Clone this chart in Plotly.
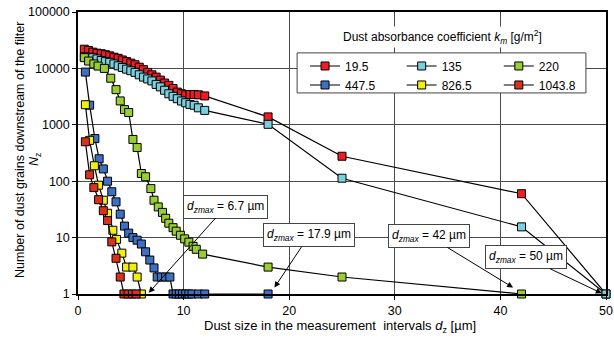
import math
import plotly.graph_objects as go

# ---- data ----
names = ["19.5", "135", "220", "447.5", "826.5", "1043.8"]
colors = ["#ee1c25", "#7ccfdc", "#9acd32", "#3f6fc2", "#f2ef12", "#d8321f"]

x_195 = [0.6, 1.0, 1.4, 1.8, 2.2, 2.6, 3.0, 3.4, 3.8, 4.2, 4.6, 5.0, 5.4, 5.8, 6.2, 6.6, 7.0, 7.4,
         7.8, 8.2, 8.6, 9.0, 9.4, 9.8, 10.2, 10.6, 11.0, 11.4, 12.0, 18, 25, 42, 50]
y_195 = [21900, 20800, 19400, 18600, 18200, 17500, 16700, 15800, 15100, 14100, 13200, 12400, 11600,
         10500, 9500, 8500, 7700, 7000, 6200, 5500, 5000, 4400, 3800, 3550, 3400, 3450, 3450, 3400,
         3250, 1380, 277, 60, 1]

x_135 = [0.6, 1.0, 1.4, 1.8, 2.2, 2.6, 3.0, 3.4, 3.8, 4.2, 4.6, 5.0, 5.4, 5.8, 6.2, 6.6, 7.0, 7.4,
         7.8, 8.2, 8.6, 9.0, 9.4, 9.8, 10.2, 10.6, 11.0, 11.4, 12.0, 18, 25, 42, 50]
y_135 = [16000, 15800, 15500, 14700, 13800, 13200, 12800, 12000, 11100, 10400, 9700, 9100, 8500,
         7700, 7000, 6500, 6000, 5200, 4700, 4100, 3550, 3200, 2900, 2640, 2460, 2300, 2220, 2000,
         1800, 1020, 113, 15.5, 1]

x_220 = [0.6, 1.0, 1.5, 1.9, 2.5, 3.1, 3.6, 4.0, 4.4, 4.8, 5.2, 5.6, 6.0, 6.4, 6.9, 7.2, 7.6, 8.0,
         8.3, 8.6, 9.0, 9.3, 9.7, 10.1, 10.5, 10.9, 11.2, 11.8, 18, 25, 42]
y_220 = [15500, 13500, 12000, 11000, 10000, 6700, 4200, 2650, 1860, 1650, 550, 395, 137, 120, 74,
         46, 35, 28, 22, 18, 15, 13, 11, 9.5, 8.3, 7.0, 6.2, 5.1, 3.0, 2.0, 1]

x_4475 = [0.7, 1.1, 1.6, 2.0, 2.4, 2.8, 3.2, 3.6, 4.0, 4.4, 4.8, 5.2, 5.6, 6.0, 6.4, 6.8, 7.2, 7.5,
          7.9, 8.3, 8.7, 9.0, 9.3, 9.6, 9.9, 10.2, 10.5, 10.8, 11.4, 12.0, 18]
y_4475 = [8600, 2230, 570, 250, 165, 100, 65, 43, 26, 16, 12, 10, 9, 7.7, 5.6, 4, 2.9, 2, 2, 2, 2,
          1, 1, 1, 1, 1, 1, 1, 1, 1, 1]

x_8265 = [0.7, 1.1, 1.55, 1.95, 2.4, 2.8, 3.3, 3.65, 4.15, 4.6, 5.2, 5.6, 6.0]
y_8265 = [2270, 530, 188, 85, 46, 27, 13.5, 9.3, 5.3, 3.0, 3.0, 2.0, 1]

x_10438 = [0.7, 1.1, 1.5, 1.95, 2.4, 2.8, 3.2, 3.6, 4.0, 4.35, 4.75, 5.15, 5.5]
y_10438 = [500, 130, 77, 47, 30, 20, 8.4, 4.3, 2.0, 1, 1, 1, 1]

xs = [x_195, x_135, x_220, x_4475, x_8265, x_10438]
ys = [y_195, y_135, y_220, y_4475, y_8265, y_10438]
legend_of = ["legend", "legend2", "legend3", "legend", "legend2", "legend3"]

x_ticks = [0, 10, 20, 30, 40, 50]
y_ticks = [1, 10, 100, 1000, 10000, 100000]

# annotations: label, head (x, y), tail (x, y)
ann_labels = ["6.7", "17.9", "42", "50"]
ann_head = [(6.7, 1.05), (18.6, 1.3), (41.2, 1.3), (49.6, 1.03)]
ann_tail = [(14.0, 35.5), (21.9, 11.0), (33.2, 10.7), (42.4, 4.5)]

FONT = "Liberation Sans, Arial, sans-serif"
PL, PT, PW, PH = 78, 12, 528, 282  # plot area in pixels


def px_x(p):
    return (p - PL) / PW


def px_y(p):
    return (PT + PH - p) / PH


fig = go.Figure()
for x, y, n, c, lg in zip(xs, ys, names, colors, legend_of):
    fig.add_trace(go.Scatter(
        x=x, y=y, name=n, mode="lines+markers", legend=lg,
        line=dict(color="black", width=1.2),
        marker=dict(symbol="square", size=8, color=c, line=dict(color="black", width=1)),
        cliponaxis=False,
    ))

annotations = []
for lab, (hx, hy), (tx, ty) in zip(ann_labels, ann_head, ann_tail):
    annotations.append(dict(
        x=hx, y=math.log10(hy), ax=tx, ay=math.log10(ty), xref="x", yref="y", axref="x", ayref="y",
        text="<i>d</i><sub><i>zmax</i></sub> = " + lab + " µm",
        showarrow=True, arrowhead=2, arrowsize=1.2, arrowwidth=1, arrowcolor="black",
        bgcolor="white", bordercolor="#444", borderwidth=1, borderpad=3,
        font=dict(family=FONT, size=12, color="black"),
    ))

annotations.append(dict(
    x=px_x(442), y=px_y(37), xref="paper", yref="paper", xanchor="center", yanchor="middle",
    text="Dust absorbance coefficient <i>k</i><sub><i>m</i></sub> [g/m<sup>2</sup>]",
    showarrow=False, bgcolor="white", font=dict(family=FONT, size=12, color="black"),
))

# axis titles as positioned text
annotations.append(dict(
    x=px_x(20), y=px_y(150), xref="paper", yref="paper", xanchor="center", yanchor="middle",
    text="Number of dust grains downstream of the filter", textangle=-90,
    showarrow=False, font=dict(family=FONT, size=12.5, color="black"),
))
annotations.append(dict(
    x=px_x(35), y=px_y(160), xref="paper", yref="paper", xanchor="center",
    yanchor="middle", text="<i>N</i><sub>z</sub>", textangle=-90,
    showarrow=False, font=dict(family=FONT, size=12.5, color="black"),
))
annotations.append(dict(
    x=px_x(340), y=px_y(326), xref="paper", yref="paper", xanchor="center",
    yanchor="middle", text="Dust size in the measurement  intervals <i>d</i><sub>z</sub> [µm]",
    showarrow=False, font=dict(family=FONT, size=13, color="black"),
))

leg_common = dict(font=dict(family=FONT, size=12, color="black"), bgcolor="rgba(0,0,0,0)",
                  borderwidth=0, yanchor="top", xanchor="left", tracegroupgap=0,
                  itemwidth=30)

fig.update_layout(
    width=614, height=340,
    margin=dict(l=PL, r=614 - PL - PW, t=PT, b=340 - PT - PH),
    paper_bgcolor="white", plot_bgcolor="white",
    font=dict(family=FONT, size=12, color="black"),
    showlegend=True,
    legend=dict(x=0.43, y=0.86, **leg_common),
    legend2=dict(x=0.613, y=0.86, **leg_common),
    legend3=dict(x=0.797, y=0.86, **leg_common),
    annotations=annotations,
    shapes=[dict(type="rect", xref="paper", yref="paper", x0=0.415, x1=0.962, y0=0.713, y1=0.855,
                 fillcolor="white", line=dict(color="#444", width=1), layer="above")],
    xaxis=dict(range=[0, 50], tickvals=x_ticks, ticktext=[str(v) for v in x_ticks],
               showgrid=True, gridcolor="#4a4a4a", gridwidth=1, zeroline=False,
               showline=True, linecolor="black", linewidth=1.5, mirror=True,
               ticks="outside", ticklen=4, tickcolor="black", automargin=False,
               tickfont=dict(size=12.5)),
    yaxis=dict(type="log", range=[0, 5], tickvals=y_ticks, ticktext=[str(v) for v in y_ticks],
               showgrid=True, gridcolor="#4a4a4a", gridwidth=1, zeroline=False,
               showline=True, linecolor="black", linewidth=1.5, mirror=True,
               ticks="outside", ticklen=4, tickcolor="black", automargin=False,
               tickfont=dict(size=12.5)),
)

fig.write_html("out.html")
